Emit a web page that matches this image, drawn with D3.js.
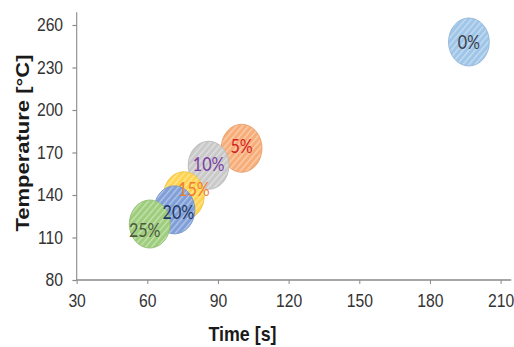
<!DOCTYPE html>
<html>
<head>
<meta charset="utf-8">
<script src="https://cdn.jsdelivr.net/npm/d3@7"></script>
<style>
  body { margin: 0; background: #fff; }
  svg { display: block; }
</style>
</head>
<body>
<svg id="chart" width="514" height="347"></svg>
<script>
// data
const labels = ['0%', '5%', '10%', '15%', '20%', '25%'];
const timeVals = [196.5, 100, 86, 75.5, 71.5, 61];
const tempVals = [248, 173, 161, 139.5, 129.5, 119.5];
const xTicks = [30, 60, 90, 120, 150, 180, 210];
const yTicks = [80, 110, 140, 170, 200, 230, 260];

const fills = ['#9fc5e8', '#f7ad78', '#c9c9c9', '#ffd34f', '#809fd8', '#9ecd7c'];
const textColors = ['#3b3f4a', '#d42323', '#7a3da3', '#ee7d2f', '#1f3864', '#4d5b3c'];
// label nudges in pixels, as the labels sit in the reference
const labelShift = [[0, 0], [0, -2], [0, -1], [10, -6], [4, 2], [-5, 6]];

const svg = d3.select('#chart');
const sx = 0.85; // the picture is squeezed horizontally

const root = svg.append('g').attr('transform', `scale(${sx},1)`);

const x = d3.scaleLinear().domain([30, 210]).range([76.7 / sx, 500.7 / sx]);
const y = d3.scaleLinear().domain([80, 260]).range([280, 25]);

// hatch patterns
const defs = svg.append('defs');
fills.forEach((c, i) => {
    const p = defs.append('pattern')
        .attr('id', 'hatch' + i)
        .attr('patternUnits', 'userSpaceOnUse')
        .attr('width', 5).attr('height', 5)
        .attr('patternTransform', 'rotate(-45)');
    p.append('rect').attr('width', 5).attr('height', 5).attr('fill', c);
    p.append('rect').attr('width', 5).attr('height', 1.5).attr('fill', '#fff').attr('opacity', 0.4);
});

// axes
const yAxis = root.append('g')
    .attr('transform', `translate(${x(30)},0)`)
    .call(d3.axisLeft(y).tickValues(yTicks).tickSize(5).tickPadding(11).tickSizeOuter(0));
const xAxis = root.append('g')
    .attr('transform', `translate(0,${y(80)})`)
    .call(d3.axisBottom(x).tickValues(xTicks).tickSize(4).tickPadding(10).tickSizeOuter(0));

[xAxis, yAxis].forEach(a => {
    a.select('.domain').remove();
    a.selectAll('line').attr('stroke', '#8a8a8a').attr('stroke-width', 1.2);
    a.selectAll('text')
        .attr('fill', '#333')
        .style('font-family', '"Liberation Sans", Arial, sans-serif')
        .style('font-size', '18.5px');
});

// axis lines run a bit past the last tick
root.append('line')
    .attr('x1', x(30)).attr('x2', x(30))
    .attr('y1', y(80)).attr('y2', y(269))
    .attr('stroke', '#8a8a8a').attr('stroke-width', 1.3);
root.append('line')
    .attr('x1', x(30)).attr('x2', x(214.5))
    .attr('y1', y(80)).attr('y2', y(80))
    .attr('stroke', '#8a8a8a').attr('stroke-width', 1.3);

// bubbles
const r = 24;
root.append('g').selectAll('ellipse')
    .data(labels)
    .join('ellipse')
    .attr('cx', (d, i) => x(timeVals[i]))
    .attr('cy', (d, i) => y(tempVals[i]))
    .attr('rx', r).attr('ry', r)
    .attr('fill', (d, i) => `url(#hatch${i})`)
    .attr('stroke', (d, i) => d3.color(fills[i]).darker(0.2))
    .attr('stroke-width', 1);

root.append('g').selectAll('text')
    .data(labels)
    .join('text')
    .attr('x', (d, i) => x(timeVals[i]) + labelShift[i][0] / sx)
    .attr('y', (d, i) => y(tempVals[i]) + labelShift[i][1])
    .attr('dy', '0.35em')
    .attr('text-anchor', 'middle')
    .attr('fill', (d, i) => textColors[i])
    .style('font-family', 'Lato, "Open Sans", sans-serif')
    .style('font-size', '19px')
    .text(d => d);

// titles
root.append('text')
    .attr('transform', 'rotate(-90)')
    .attr('x', -143).attr('y', 22 / sx)
    .attr('dy', '0.36em')
    .attr('text-anchor', 'middle')
    .attr('fill', '#1a1a1a')
    .style('font-family', '"Liberation Sans", Arial, sans-serif')
    .style('font-weight', 'bold')
    .style('font-size', '22px')
    .text('Temperature [°C]');

root.append('text')
    .attr('x', 242.5 / sx).attr('y', 341)
    .attr('text-anchor', 'middle')
    .attr('fill', '#1a1a1a')
    .style('font-family', '"Liberation Sans", Arial, sans-serif')
    .style('font-weight', 'bold')
    .style('font-size', '21px')
    .text('Time [s]');
</script>
</body>
</html>
